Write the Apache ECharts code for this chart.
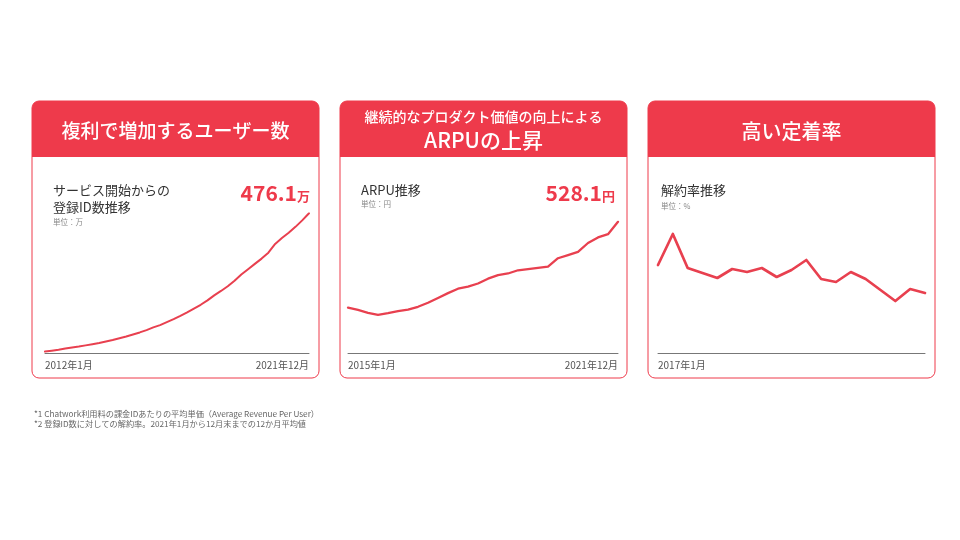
<!DOCTYPE html>
<html>
<head>
<meta charset="utf-8">
<script src="https://cdn.jsdelivr.net/npm/echarts@6/dist/echarts.min.js"></script>
<style>
  html, body { margin: 0; background: #fff; }
  #chart { width: 960px; height: 540px; }
</style>
</head>
<body>
<div id="chart"></div>
<script>
// quarterly registered IDs, 万
const userValues = [6, 9, 12, 16, 20, 23, 27, 31, 35, 40, 45, 51, 57, 64, 71, 79, 88, 96, 106, 116,
  127, 139, 152, 165, 180, 197, 212, 228, 247, 268, 286, 304, 322, 342, 372, 392, 410, 430, 452, 476.1];
const userTicks = ["2012年1月", "2021年12月"];

// quarterly ARPU, 円
const arpuValues = [314, 308, 301, 296, 300, 305, 309, 316, 326, 338, 350, 361, 366, 374,
  386, 395, 399, 407, 410, 413, 416, 437, 445, 453, 475, 489, 497, 528.1];
const arpuTicks = ["2015年1月", "2021年12月"];

// churn rate, %
const churnValues = [0.88, 1.19, 0.85, 0.80, 0.75, 0.84, 0.81, 0.85, 0.76, 0.83,
  0.93, 0.74, 0.71, 0.81, 0.74, 0.63, 0.52, 0.64, 0.60];
const churnTicks = ["2017年1月"];

function quarters(startYear, count) {
  const out = [];
  for (let i = 0; i < count; i++) {
    out.push((startYear + Math.floor(i / 4)) + "年" + (1 + (i % 4) * 3) + "月");
  }
  return out;
}

const RED = "#EE3A4B";
const LINE = "#E8404F";
const FONT = '"Noto Sans CJK JP", "Noto Sans", sans-serif';

const chart = echarts.init(document.getElementById("chart"));

function card(x, title) {
  const els = [
    { type: "rect", z: -10, shape: { x: x, y: 101, width: 287, height: 277, r: 7 },
      style: { fill: "#fff", stroke: RED, lineWidth: 1 } },
    { type: "rect", z: -9, shape: { x: x, y: 101, width: 287, height: 56, r: [7, 7, 0, 0] },
      style: { fill: RED } }
  ];
  return els.concat(title);
}

function txt(x, y, text, size, color, weight, align) {
  return { type: "text", x: x, y: y,
    style: { text: text, fill: color, fontSize: size, fontWeight: weight || "normal",
      fontFamily: FONT, align: align || "left", verticalAlign: "middle" } };
}

function bigValue(x, y, num, unit) {
  return { type: "text", x: x, y: y,
    style: { text: "{a|" + num + "}{b|" + unit + "}", align: "right", verticalAlign: "middle",
      rich: {
        a: { fontSize: 21, fontWeight: "bold", fill: RED, fontFamily: FONT, verticalAlign: "bottom" },
        b: { fontSize: 13, fontWeight: "bold", fill: RED, fontFamily: FONT, verticalAlign: "bottom", padding: [0, 0, 1, 0] }
      } } };
}

const graphics = []
  .concat(card(32, [txt(175.5, 131, "複利で増加するユーザー数", 19, "#fff", 500, "center")]))
  .concat(card(340, [
    txt(483.5, 117, "継続的なプロダクト価値の向上による", 14, "#fff", 500, "center"),
    txt(483.5, 140, "ARPUの上昇", 21, "#fff", 500, "center")
  ]))
  .concat(card(648, [txt(791.5, 131, "高い定着率", 20, "#fff", 500, "center")]))
  .concat([
    txt(53, 190, "サービス開始からの", 13, "#333"),
    txt(53, 207, "登録ID数推移", 13, "#333"),
    txt(53, 222, "単位：万", 7.5, "#888"),
    bigValue(310, 193, "476.1", "万"),
    txt(361, 190, "ARPU推移", 13, "#333"),
    txt(361, 204, "単位：円", 7.5, "#888"),
    bigValue(615, 193, "528.1", "円"),
    txt(661, 190, "解約率推移", 13, "#333"),
    txt(661, 206, "単位：%", 7.5, "#888"),
    txt(34, 414, "*1 Chatwork利用料の課金IDあたりの平均単価（Average Revenue Per User）", 8.2, "#666"),
    txt(34, 424, "*2 登録ID数に対しての解約率。2021年1月から12月末までの12か月平均値", 8.2, "#666")
  ]);

function xAxisFor(gridIndex, count, ticks) {
  return {
    type: "category", gridIndex: gridIndex, boundaryGap: false,
    data: quarters(2000, count),
    axisLine: { lineStyle: { color: "#777", width: 1 } },
    axisTick: { show: false },
    axisLabel: {
      interval: 0, margin: 7, fontSize: 10, color: "#555", fontFamily: FONT,
      alignMinLabel: "left", alignMaxLabel: "right",
      formatter: function (v, i) {
        if (i === 0) return ticks[0];
        if (i === count - 1 && ticks.length > 1) return ticks[1];
        return "";
      }
    }
  };
}

function yAxisFor(gridIndex, min, max) {
  return { type: "value", gridIndex: gridIndex, min: min, max: max,
    axisLine: { show: false }, axisTick: { show: false },
    axisLabel: { show: false }, splitLine: { show: false } };
}

function lineSeries(idx, data, width) {
  return { type: "line", xAxisIndex: idx, yAxisIndex: idx, data: data,
    showSymbol: false, symbol: "none", animation: false,
    lineStyle: { color: LINE, width: width, cap: "round", join: "round" } };
}

const option = {
  animation: false,
  graphic: graphics,
  grid: [
    { left: 45, right: 651, top: 213.3, bottom: 186.7 },
    { left: 348, right: 342, top: 221.7, bottom: 186.7 },
    { left: 658, right: 35, top: 213, bottom: 187 }
  ],
  xAxis: [
    xAxisFor(0, userValues.length, userTicks),
    xAxisFor(1, arpuValues.length, arpuTicks),
    xAxisFor(2, churnValues.length, churnTicks)
  ],
  yAxis: [
    yAxisFor(0, 0, 476.1),
    yAxisFor(1, 200, 528.1),
    yAxisFor(2, 0, 1.4)
  ],
  series: [
    lineSeries(0, userValues, 2),
    lineSeries(1, arpuValues, 2.3),
    lineSeries(2, churnValues, 2.7)
  ]
};

chart.setOption(option);
</script>
</body>
</html>
